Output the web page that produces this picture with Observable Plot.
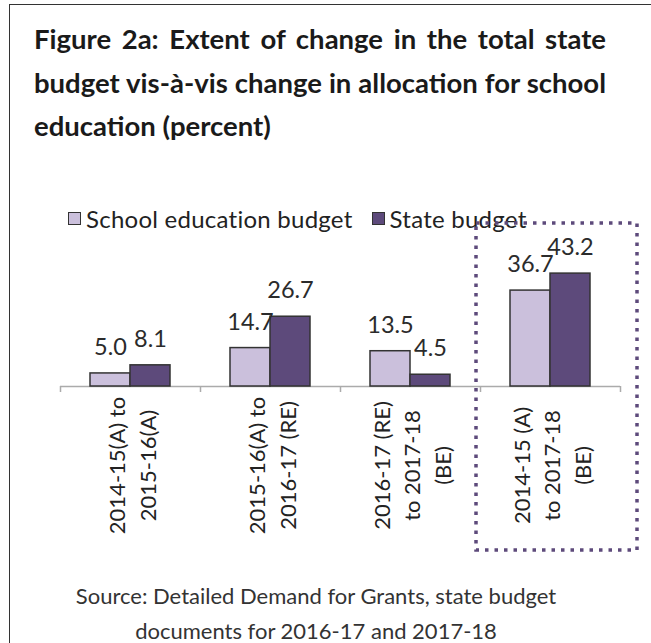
<!DOCTYPE html>
<html>
<head>
<meta charset="utf-8">
<script src="https://cdn.jsdelivr.net/npm/d3@7"></script>
<script src="https://cdn.jsdelivr.net/npm/@observablehq/plot@0.6"></script>
<style>
  html, body { margin: 0; padding: 0; background: #fff; }
  body { width: 651px; height: 643px; overflow: hidden; position: relative; font-family: Lato, "Noto Sans", sans-serif; color: #222; }
  #border-top { position: absolute; left: 9px; top: 4px; width: 642px; height: 0; border-top: 1.5px solid #333; }
  #border-left { position: absolute; left: 9px; top: 4px; width: 0; height: 640px; border-left: 1.5px solid #333; }
  #title { position: absolute; left: 34px; top: 17px; width: 572px; font-weight: 700; font-size: 27.5px; line-height: 43.5px; color: #1a1a1a; }
  #title .just { text-align: justify; text-align-last: justify; }
  #legend { position: absolute; left: 68px; top: 204px; display: flex; align-items: center; font-size: 24px; letter-spacing: 0.25px; color: #222; white-space: nowrap; }
  #legend .sw { width: 11px; height: 11px; border: 1.5px solid #333; margin-right: 5px; }
  #legend .item { display: flex; align-items: center; margin-right: 19px; }
  #chart { position: absolute; left: 0; top: 200px; }
  #source { position: absolute; left: 16px; width: 600px; top: 578px; text-align: center; font-size: 22px; line-height: 35px; color: #333; }
</style>
</head>
<body>
<div id="border-top"></div>
<div id="border-left"></div>
<div id="title"></div>
<div id="legend"></div>
<div id="chart"></div>
<div id="source"></div>
<script>
// ---- data ----
const titleLines = [
  "Figure 2a: Extent of change in the total state",
  "budget vis-à-vis change in allocation for school",
  "education (percent)"
];
const categories = [
  "2014-15(A) to\n2015-16(A)",
  "2015-16(A) to\n2016-17 (RE)",
  "2016-17 (RE)\nto 2017-18\n(BE)",
  "2014-15 (A)\nto 2017-18\n(BE)"
];
const series = ["School education budget", "State budget"];
const schoolValues = [5.0, 14.7, 13.5, 36.7];
const stateValues = [8.1, 26.7, 4.5, 43.2];
const highlighted = categories[3];
const sourceLines = [
  "Source: Detailed Demand for Grants, state budget",
  "documents for 2016-17 and 2017-18"
];
const colors = ["#cbc0dc", "#5d4a7b"];

// ---- title ----
const titleEl = document.getElementById("title");
titleLines.forEach((t, i) => {
  const d = document.createElement("div");
  d.textContent = t;
  if (i < titleLines.length - 1) d.className = "just";
  titleEl.appendChild(d);
});

// ---- legend ----
const legendEl = document.getElementById("legend");
series.forEach((s, i) => {
  const item = document.createElement("div");
  item.className = "item";
  const sw = document.createElement("div");
  sw.className = "sw";
  sw.style.background = colors[i];
  const lab = document.createElement("span");
  lab.textContent = s;
  item.appendChild(sw); item.appendChild(lab);
  legendEl.appendChild(item);
});

// ---- source ----
const srcEl = document.getElementById("source");
sourceLines.forEach(t => { const d = document.createElement("div"); d.textContent = t; srcEl.appendChild(d); });

// ---- chart ----
const W = 651, H = 370, ML = 60, MR = 31, MT = 68.4, MB = 184;
const frameH = H - MT - MB;
const yDomain = [0, 45];
const band = (W - ML - MR) / categories.length;
const barW = 40;
const outer = (band - 2 * barW) / 2;
const rows = categories.map((c, i) => ({category: c, school: schoolValues[i], state: stateValues[i]}));
const labelFont = {fontSize: 23.5, fill: "#2b2b2b", lineAnchor: "middle", dy: -26};

const chart = Plot.plot({
  width: W, height: H,
  marginLeft: ML, marginRight: MR, marginTop: MT, marginBottom: MB,
  x: {type: "band", domain: categories, padding: 0, axis: null},
  y: {domain: yDomain, axis: null},
  style: {fontFamily: "Lato, 'Noto Sans', sans-serif", background: "transparent", overflow: "visible"},
  marks: [
    Plot.ruleY([0], {stroke: "#ababab", strokeWidth: 1.5}),
    Plot.ruleX(categories, {x: d => d, dx: -band / 2, insetTop: frameH, insetBottom: -6, stroke: "#ababab", strokeWidth: 1.5}),
    Plot.ruleX([categories[categories.length - 1]], {x: d => d, dx: band / 2, insetTop: frameH, insetBottom: -6, stroke: "#ababab", strokeWidth: 1.5}),
    Plot.barY(rows, {x: "category", y: "school", fill: colors[0], stroke: "#333", strokeWidth: 1.5, insetLeft: outer, insetRight: band - outer - barW}),
    Plot.barY(rows, {x: "category", y: "state", fill: colors[1], stroke: "#333", strokeWidth: 1.5, insetLeft: outer + barW, insetRight: outer}),
    Plot.text(rows, {x: "category", y: "school", text: d => d.school.toFixed(1), dx: -barW / 2, ...labelFont}),
    Plot.text(rows, {x: "category", y: "state", text: d => d.state.toFixed(1), dx: barW / 2, ...labelFont}),
    Plot.text(categories, {x: d => d, frameAnchor: "bottom", dy: 79, rotate: -90, textAnchor: "middle", lineAnchor: "middle", lineHeight: 1.4, fontSize: 22, fill: "#222"}),
    Plot.barY([highlighted], {x: d => d, y1: yDomain[0], y2: yDomain[1], fill: "none", stroke: colors[1], strokeWidth: 3.5, strokeDasharray: "3.5 6", insetLeft: -4, insetRight: -17, insetTop: -(MT - 23), insetBottom: -164})
  ]
});
document.getElementById("chart").appendChild(chart);
</script>
</body>
</html>
